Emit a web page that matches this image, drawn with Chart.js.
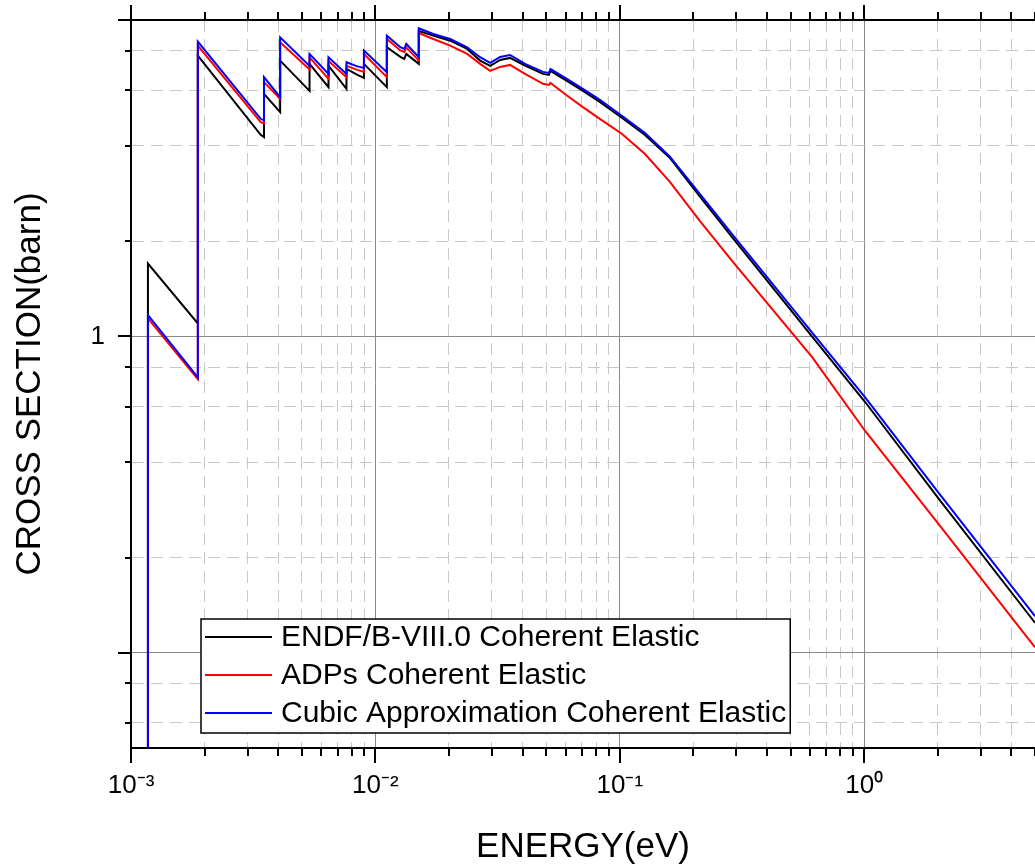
<!DOCTYPE html>
<html>
<head>
<meta charset="utf-8">
<script src="https://cdn.jsdelivr.net/npm/chart.js@4.4.1/dist/chart.umd.min.js"></script>
<style>
  html, body { margin: 0; padding: 0; background: #fff; }
  #wrap { width: 1035px; height: 865px; position: relative; }
</style>
</head>
<body>
<div id="wrap"><canvas id="myChart"></canvas></div>
<script>
// energies (eV), shared by the three curves; repeated values are the Bragg edges
const energy = [0.001173, 0.001173, 0.001877, 0.001877, 0.003394, 0.003501, 0.003501, 0.004076, 0.004076,
  0.005377, 0.005377, 0.006428, 0.006428, 0.007614, 0.007614, 0.008444, 0.008976, 0.008976, 0.01114, 0.01114,
  0.01265, 0.01313, 0.01338, 0.01505, 0.01505, 0.01725, 0.02023, 0.02374, 0.02683, 0.02948, 0.03238, 0.03556,
  0.04095, 0.04849, 0.05131, 0.05204, 0.06075, 0.07063, 0.08286, 0.1019, 0.1265, 0.16, 0.2121, 0.2891, 0.6136,
  1.009, 2.024, 5.0];

// cross sections (barn)
const endf = [0.03, 1.699, 1.099, 7.716, 4.338, 4.265, 5.843, 5.116, 7.441, 5.972, 7.265, 6.133, 7.176, 6.058,
  7.005, 6.707, 6.563, 7.265, 6.133, 8.202, 7.644, 7.533, 7.812, 7.265, 9.232, 8.923, 8.603, 8.101, 7.441, 7.160,
  7.479, 7.589, 7.176, 6.756, 6.707, 6.905, 6.422, 5.972, 5.513, 4.908, 4.338, 3.670, 2.775, 2.053, 0.9964,
  0.6203, 0.3061, 0.1244];
const adps = [0.03, 1.1396, 0.7318, 8.298, 4.757, 4.716, 6.361, 5.635, 8.506, 6.980, 7.617, 6.515, 7.425, 6.596,
  7.160, 6.955, 6.855, 7.812, 6.596, 8.710, 8.013, 7.926, 8.190, 7.441, 9.100, 8.710, 8.298, 7.812, 7.265, 6.905,
  7.108, 7.212, 6.756, 6.283, 6.237, 6.329, 5.771, 5.303, 4.872, 4.370, 3.778, 3.083, 2.322, 1.725, 0.8585,
  0.5023, 0.2541, 0.1040];
const cubic = [0.03, 1.1675, 0.7425, 8.543, 4.872, 4.819, 6.596, 5.705, 8.820, 7.160, 7.812, 6.756, 7.627, 6.756,
  7.355, 7.134, 7.056, 8.001, 6.840, 8.923, 8.202, 8.101, 8.401, 7.627, 9.415, 9.034, 8.710, 8.202, 7.627, 7.318,
  7.644, 7.755, 7.265, 6.855, 6.805, 7.005, 6.515, 6.058, 5.594, 4.980, 4.401, 3.702, 2.826, 2.098, 1.026,
  0.6410, 0.3188, 0.1305];

const seriesLabels = ['ENDF/B-VIII.0 Coherent Elastic', 'ADPs Coherent Elastic', 'Cubic Approximation Coherent Elastic'];
const seriesColors = ['#000000', '#ff0000', '#0000ff'];

// axis ticks
const xTicks = [0.001, 0.002, 0.003, 0.004, 0.005, 0.006, 0.007, 0.008, 0.009,
  0.01, 0.02, 0.03, 0.04, 0.05, 0.06, 0.07, 0.08, 0.09,
  0.1, 0.2, 0.3, 0.4, 0.5, 0.6, 0.7, 0.8, 0.9,
  1, 2, 3, 4, 5];
const xLabelValues = [0.001, 0.01, 0.1, 1];
const xLabels = ['10\u207B\u00B3', '10\u207B\u00B2', '10\u207B\u00B9', '10\u2070'];
const yTicks = [0.06, 0.08, 0.1, 0.2, 0.4, 0.6, 0.8, 1, 2, 4, 6, 8, 10];
const yLabelValues = [1];
const yLabels = ['1'];

const FONT = "'Liberation Sans', Arial, sans-serif";

const isDecade = v => Math.abs(Math.log10(v) - Math.round(Math.log10(v))) < 1e-6;
const labelFor = (vals, labels, v) => {
    const i = vals.findIndex(a => Math.abs(a - v) / a < 1e-6);
    return i >= 0 ? labels[i] : '';
};

const gridColor = c => (c.tick && isDecade(c.tick.value)) ? '#8a8a8a' : '#c8c8c8';
const gridDash = c => (c.tick && !isDecade(c.tick.value)) ? [12, 7] : [];

// frame on top, outward tick marks, legend box
const framePlugin = {
    id: 'frame',
    afterDraw(chart) {
        const { ctx, chartArea: a, scales: { x, y } } = chart;
        ctx.save();
        ctx.strokeStyle = '#000';
        ctx.lineWidth = 2;
        ctx.beginPath();
        ctx.moveTo(a.left - 1, a.top);
        ctx.lineTo(a.right, a.top);
        x.ticks.forEach(t => {
            const px = Math.round(x.getPixelForValue(t.value));
            const len = isDecade(t.value) ? 15 : 8;
            ctx.moveTo(px, a.bottom);
            ctx.lineTo(px, a.bottom + len);
            ctx.moveTo(px, a.top);
            ctx.lineTo(px, a.top - len);
        });
        y.ticks.forEach(t => {
            const py = Math.round(y.getPixelForValue(t.value));
            const len = isDecade(t.value) ? 13 : 6;
            ctx.moveTo(a.left, py);
            ctx.lineTo(a.left - len, py);
        });
        ctx.stroke();

        // legend
        const bx = 201, by = 619, lineH = 38;
        ctx.font = '30px ' + FONT;
        const w = Math.max(...seriesLabels.map(s => ctx.measureText(s).width));
        const bw = 281 - bx + w + 4, bh = 114;
        ctx.fillStyle = '#fff';
        ctx.fillRect(bx, by, bw, bh);
        ctx.lineWidth = 1.5;
        ctx.strokeRect(bx, by, bw, bh);
        ctx.textBaseline = 'middle';
        seriesLabels.forEach((s, i) => {
            const ly = by + 18 + i * lineH;
            ctx.strokeStyle = seriesColors[i];
            ctx.lineWidth = 2;
            ctx.beginPath();
            ctx.moveTo(bx + 4, ly);
            ctx.lineTo(272, ly);
            ctx.stroke();
            ctx.fillStyle = '#000';
            ctx.fillText(s, 281, ly + 1);
        });
        ctx.restore();
    }
};

const ctx = document.getElementById('myChart');
new Chart(ctx, {
    type: 'line',
    data: {
        datasets: [endf, adps, cubic].map((vals, i) => ({
            label: seriesLabels[i],
            data: energy.map((e, j) => ({ x: e, y: vals[j] })),
            borderColor: seriesColors[i],
            backgroundColor: seriesColors[i],
            borderWidth: 2,
            pointRadius: 0,
            tension: 0,
            order: 3 - i
        }))
    },
    options: {
        responsive: true,
        maintainAspectRatio: false,
        animation: false,
        layout: { padding: { top: 20, right: 0, left: 0, bottom: 0 } },
        plugins: {
            legend: { display: false },
            tooltip: { enabled: false }
        },
        scales: {
            x: {
                type: 'logarithmic',
                min: 0.001,
                max: 5,
                afterBuildTicks: axis => { axis.ticks = xTicks.map(v => ({ value: v })); },
                afterFit: axis => {
                    axis.height = 117;
                    axis.paddingLeft = 0;
                    axis.paddingRight = 0;
                },
                grid: { color: gridColor, lineWidth: 1, drawTicks: false },
                border: { display: true, color: '#000', width: 2, dash: gridDash },
                ticks: {
                    autoSkip: false,
                    maxRotation: 0,
                    padding: 22,
                    color: '#000',
                    font: { family: FONT, size: 26 },
                    callback: v => labelFor(xLabelValues, xLabels, v)
                },
                title: {
                    display: true,
                    text: 'ENERGY(eV)',
                    color: '#000',
                    font: { family: FONT, size: 35, lineHeight: 1 },
                    padding: { top: 0, bottom: 0 }
                }
            },
            y: {
                type: 'logarithmic',
                min: 0.05,
                max: 10,
                afterBuildTicks: axis => { axis.ticks = yTicks.map(v => ({ value: v })); },
                afterFit: axis => {
                    axis.width = 131;
                    axis.paddingTop = 0;
                    axis.paddingBottom = 0;
                },
                grid: { color: gridColor, lineWidth: 1, drawTicks: false },
                border: { display: true, color: '#000', width: 2, dash: gridDash },
                ticks: {
                    autoSkip: false,
                    padding: 26,
                    color: '#000',
                    font: { family: FONT, size: 26 },
                    callback: v => labelFor(yLabelValues, yLabels, v)
                },
                title: {
                    display: true,
                    text: 'CROSS SECTION(barn)',
                    color: '#000',
                    font: { family: FONT, size: 35, lineHeight: 1 },
                    padding: { top: 13, bottom: 0 }
                }
            }
        }
    },
    plugins: [framePlugin]
});
</script>
</body>
</html>
